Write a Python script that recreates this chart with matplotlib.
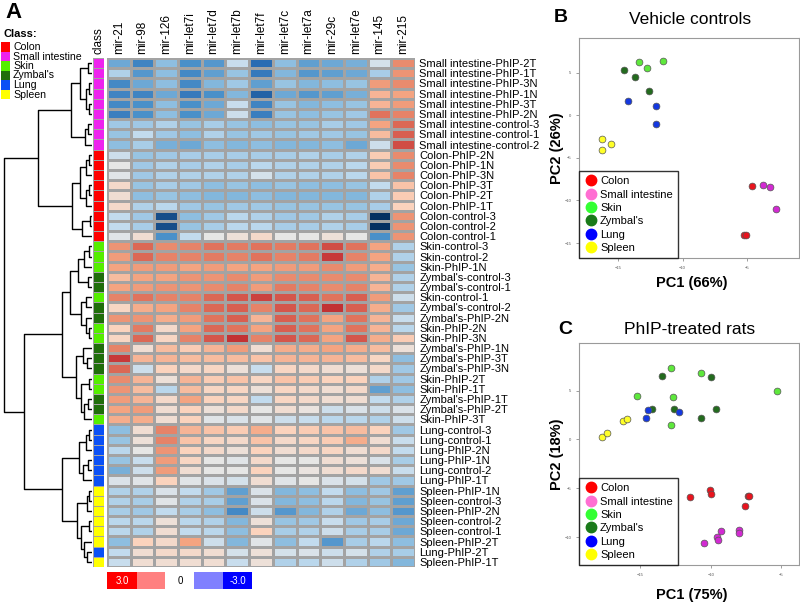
import matplotlib
matplotlib.use("Agg")
import matplotlib.pyplot as plt
import numpy as np
from matplotlib.colors import LinearSegmentedColormap, ListedColormap
from matplotlib.patches import Rectangle
from matplotlib.lines import Line2D

plt.rcParams["font.family"] = ["Liberation Sans", "DejaVu Sans"]

W, H = 800, 604

mirnas = ["mir-21", "mir-98", "mir-126", "mir-let7i", "mir-let7d", "mir-let7b", "mir-let7f",
          "mir-let7c", "mir-let7a", "mir-29c", "mir-let7e", "mir-145", "mir-215"]

samples = [
    "Small intestine-PhIP-2T", "Small intestine-PhIP-1T", "Small intestine-PhIP-3N",
    "Small intestine-PhIP-1N", "Small intestine-PhIP-3T", "Small intestine-PhIP-2N",
    "Small intestine-control-3", "Small intestine-control-1", "Small intestine-control-2",
    "Colon-PhIP-2N", "Colon-PhIP-1N", "Colon-PhIP-3N", "Colon-PhIP-3T", "Colon-PhIP-2T",
    "Colon-PhIP-1T", "Colon-control-3", "Colon-control-2", "Colon-control-1",
    "Skin-control-3", "Skin-control-2", "Skin-PhIP-1N", "Zymbal's-control-3",
    "Zymbal's-control-1", "Skin-control-1", "Zymbal's-control-2", "Zymbal's-PhIP-2N",
    "Skin-PhIP-2N", "Skin-PhIP-3N", "Zymbal's-PhIP-1N", "Zymbal's-PhIP-3T",
    "Zymbal's-PhIP-3N", "Skin-PhIP-2T", "Skin-PhIP-1T", "Zymbal's-PhIP-1T",
    "Zymbal's-PhIP-2T", "Skin-PhIP-3T", "Lung-control-3", "Lung-control-1",
    "Lung-PhIP-2N", "Lung-PhIP-1N", "Lung-control-2", "Lung-PhIP-1T",
    "Spleen-PhIP-1N", "Spleen-control-3", "Spleen-PhIP-2N", "Spleen-control-2",
    "Spleen-control-1", "Spleen-PhIP-2T", "Lung-PhIP-2T", "Spleen-PhIP-1T",
]

# scaled expression, rows = samples, cols = mirnas
values = [
    [-1.5, -2.0, -1.2, -1.8, -1.7, -0.5, -2.4, -1.2, -1.6, -1.5, -1.4, -0.3, 1.5],
    [-0.8, -1.7, -1.2, -1.9, -1.6, -1.1, -2.2, -1.3, -1.7, -1.6, -1.5, -0.9, 1.4],
    [-1.9, -1.5, -1.2, -1.9, -1.3, -1.0, -1.6, -1.1, -1.3, -1.2, -1.1, 1.3, 1.5],
    [-2.0, -2.0, -1.5, -2.2, -1.8, -1.3, -2.5, -1.5, -1.7, -1.6, -1.4, 1.0, 1.2],
    [-1.9, -1.8, -1.2, -1.8, -1.5, -0.5, -2.0, -1.1, -1.3, -1.2, -1.1, 1.0, 1.3],
    [-2.1, -1.8, -1.2, -1.8, -1.5, -0.4, -2.1, -1.1, -1.2, -1.1, -1.0, 1.8, 1.6],
    [-1.0, -1.0, -0.8, -1.1, -0.9, -1.1, -1.2, -1.1, -1.1, -0.9, -1.0, 1.2, 1.9],
    [-1.1, -0.6, -1.0, -1.2, -0.8, -1.1, -1.0, -1.1, -1.0, -1.0, -1.1, 0.9, 2.0],
    [-1.2, -0.9, -1.4, -1.5, -1.2, -1.3, -1.2, -1.3, -1.3, -1.2, -1.5, -0.4, 2.2],
    [-0.4, -1.1, -1.0, -0.9, -0.9, -0.9, -0.9, -0.9, -0.8, -0.9, -0.8, 0.7, 1.5],
    [0.0, -1.0, -0.8, -0.9, -0.8, -0.9, -0.7, -0.8, -0.8, -0.8, -0.7, 0.7, 1.5],
    [-0.1, -1.0, -0.8, -0.8, -0.8, -0.8, -0.3, -0.8, -0.8, -0.8, -0.7, 0.8, 1.6],
    [0.4, -1.1, -0.9, -1.0, -1.2, -1.1, -1.2, -1.1, -1.2, -1.2, -1.1, -0.6, 0.8],
    [0.3, -1.2, -1.1, -1.2, -1.3, -1.3, -1.2, -1.3, -1.3, -1.3, -1.3, -0.8, 0.7],
    [0.4, -0.8, -0.7, -1.0, -1.1, -1.0, -1.0, -1.1, -1.1, -1.1, -1.1, -0.9, 0.6],
    [-0.6, -1.0, -2.7, -1.2, -1.0, -0.7, -0.8, -1.0, -1.0, -0.8, -0.9, -3.0, 1.4],
    [-0.6, -0.9, -2.7, -1.1, -0.9, -0.7, -0.7, -0.9, -0.9, -0.8, -0.9, -3.0, 1.4],
    [-0.1, 0.3, -1.8, -0.6, 0.0, 0.2, 0.4, 0.0, 0.0, 0.2, 0.0, -1.8, 1.4],
    [1.4, 1.9, 1.5, 1.6, 1.8, 1.7, 1.8, 1.7, 1.8, 2.2, 1.8, 1.2, -0.8],
    [1.3, 1.9, 1.6, 1.6, 1.7, 1.6, 1.8, 1.6, 1.7, 2.4, 1.6, 1.2, -0.8],
    [1.2, 1.3, 1.3, 1.2, 1.3, 1.2, 1.2, 1.3, 1.3, 1.5, 1.3, 1.1, -1.1],
    [0.9, 1.2, 1.2, 1.4, 1.4, 1.5, 1.3, 1.5, 1.5, 1.5, 1.5, 1.0, -0.8],
    [1.2, 1.3, 1.4, 1.4, 1.5, 1.6, 1.3, 1.7, 1.6, 1.5, 1.6, 1.0, -0.8],
    [1.6, 1.8, 1.6, 1.6, 1.9, 2.1, 2.3, 2.1, 2.0, 1.8, 2.0, 1.3, -0.4],
    [0.5, 1.1, 1.2, 1.6, 1.9, 2.0, 1.6, 2.1, 1.9, 2.5, 2.0, 1.1, -1.0],
    [1.4, 1.4, 1.1, 1.3, 1.8, 2.0, 1.0, 2.0, 1.8, 1.2, 1.8, 1.0, -0.5],
    [0.6, 1.7, 0.4, 1.2, 1.9, 1.8, 1.2, 2.0, 1.8, 1.2, 1.8, 1.0, -0.7],
    [0.5, 1.9, 0.5, 1.6, 2.1, 2.5, 1.6, 2.1, 1.9, 1.2, 2.1, 1.1, 0.7],
    [1.6, 0.3, 0.9, 0.7, 1.0, 1.3, 0.3, 1.1, 1.1, 1.2, 1.1, 0.9, 0.2],
    [2.4, 1.0, 1.0, 0.9, 0.9, 0.9, 0.8, 1.0, 1.0, 1.0, 0.9, 0.5, -1.2],
    [1.9, -0.4, 0.6, 0.4, 0.5, 0.2, -0.5, 0.5, 0.4, 0.3, 0.2, 0.4, -1.0],
    [1.5, 1.0, 0.2, 1.0, 0.7, 0.8, 0.5, 0.8, 0.7, 0.6, 0.6, -0.8, -1.0],
    [1.4, 0.9, -0.7, 0.9, 0.5, 0.5, 0.2, 0.5, 0.4, 0.3, 0.4, -1.6, -1.2],
    [1.3, 1.0, 0.4, 1.2, 0.6, 0.5, -0.6, 0.5, 0.4, 0.3, 0.3, -0.6, -0.8],
    [1.2, 1.3, 0.3, 0.6, 0.2, 0.4, 0.0, 0.3, 0.1, -0.4, -0.2, -0.4, -0.2],
    [1.1, 1.1, 0.3, 0.6, -0.1, -0.2, -0.1, -0.4, -0.5, -0.7, -0.7, -0.8, -0.4],
    [-1.2, 0.3, 1.6, 1.0, 0.8, 0.7, 1.1, 0.6, 0.7, 0.8, 0.9, 0.6, -1.0],
    [-1.1, 0.2, 1.6, 0.8, 0.5, 0.4, 0.8, 0.4, 0.5, 0.7, 1.1, 0.3, -0.5],
    [-0.7, 0.0, 1.4, 0.6, 0.4, 0.2, 0.6, 0.3, 0.4, 0.5, 0.3, 0.4, -0.6],
    [-1.1, -0.5, 1.3, 0.5, 0.0, -0.1, 0.4, 0.0, 0.0, 0.3, 0.2, -0.2, -0.9],
    [-1.4, -0.4, 1.3, 0.3, 0.0, 0.0, 0.6, 0.0, 0.1, 0.3, 0.4, 0.3, -0.5],
    [-0.2, -0.1, 0.6, -0.1, -0.2, -0.3, 0.3, -0.1, 0.0, -0.2, -0.3, -1.0, -1.0],
    [-0.8, -0.8, -0.2, -0.6, -1.0, -1.6, -0.2, -1.3, -1.2, -0.6, -1.2, -1.0, -1.6],
    [-0.8, -0.9, -0.1, -0.8, -0.9, -1.6, -0.2, -1.3, -1.2, -0.7, -1.3, -1.1, -1.6],
    [-0.9, -1.0, -0.6, -0.9, -1.2, -1.9, -0.4, -1.7, -1.3, -0.8, -1.5, -1.2, -1.7],
    [-0.7, -0.7, 0.2, -0.7, -0.8, -1.3, 0.2, -1.1, -1.0, -0.5, -1.0, -0.9, -1.5],
    [-0.7, -0.8, 0.3, -0.6, -0.7, -1.2, 0.6, -0.9, -0.8, -0.4, -0.9, -0.9, -1.5],
    [-1.2, 0.6, 0.4, 1.2, -0.4, -1.3, -0.1, -1.2, -0.6, -1.7, -0.9, -0.7, -1.2],
    [-0.6, 0.3, 0.4, 0.4, 0.3, -0.3, 0.2, -0.3, -0.2, -0.4, -0.3, -0.8, -0.9],
    [-0.5, 0.3, 0.3, 0.3, 0.3, -0.5, 0.2, -0.8, -0.7, -0.4, -0.8, -1.0, -1.3],
]

class_names = ["Colon", "Small intestine", "Skin", "Zymbal's", "Lung", "Spleen"]
class_colors = ["#ff0000", "#ee22ee", "#55ee00", "#1f6e0a", "#0a50f5", "#ffff00"]

# dendrogram: [left, right, merge height in px from leaves]
tree = [
    [
        [[[0, 1, 4], [[2, 3, 3], [4, 5, 3], 6], 12], [[6, 7, 4], 8, 7], 21],
        [[[[9, 10, 3], 11, 6], [[12, 13, 3], 14, 6], 12], [[15, 16, 2], 17, 10], 20],
        54,
    ],
    [
        [
            [[[[18, 19, 3], 20, 8], [21, 22, 4], 14], [[23, 24, 6], [25, [26, 27, 3], 6], 11], 22],
            [[28, [29, 30, 5], 9], [[31, 32, 3], [[33, 34, 4], 35, 8], 11], 16],
            30,
        ],
        [
            [[[36, 37, 3], 38, 6], [[39, 40, 4], 41, 9], 13],
            [[[42, 43, 3], 44, 5], [[45, 46, 3], [47, [48, 49, 5], 8], 11], 15],
            30,
        ],
        68,
    ],
    88,
]

# PCA scores
pcb_x = {
    "Colon": [-4.67, -5.25, -5.10], "Small intestine": [-3.77, -3.26, -2.80],
    "Skin": [-13.33, -12.77, -11.54], "Zymbal's": [-14.56, -13.64, -12.62],
    "Lung": [-14.25, -12.05, -12.03], "Spleen": [-16.20, -15.49, -16.23],
}
pcb_y = {
    "Colon": [-8.28, -14.06, -14.10], "Small intestine": [-8.2, -8.4, -10.98],
    "Skin": [6.25, 5.55, 6.37], "Zymbal's": [5.28, 4.53, 2.89],
    "Lung": [1.72, 1.10, -1.05], "Spleen": [-2.74, -3.36, -4.10],
}
pcc_x = {
    "Colon": [-11.44, -10.07, -10.0, -7.36, -7.29, -7.57],
    "Small intestine": [-9.29, -9.55, -9.48, -7.97, -7.97, -10.45],
    "Skin": [-12.81, -10.68, -15.19, -12.69, -12.83, -5.33],
    "Zymbal's": [-13.42, -9.98, -14.17, -12.62, -9.60, -10.66],
    "Lung": [-14.41, -14.60, -12.26],
    "Spleen": [-16.2, -15.92, -17.69, -17.36],
}
pcc_y = {
    "Colon": [-5.86, -5.17, -5.55, -5.79, -5.82, -6.84],
    "Small intestine": [-9.38, -9.96, -10.30, -9.27, -9.61, -10.57],
    "Skin": [7.33, 6.78, 4.42, 4.32, 1.49, 4.94],
    "Zymbal's": [6.47, 6.43, 3.16, 3.09, 3.12, 2.23],
    "Lung": [3.05, 2.2, 2.82],
    "Spleen": [1.93, 2.1, 0.23, 0.70],
}
pca_point_colors = {"Colon": "#e8141e", "Small intestine": "#d22ad2", "Skin": "#5ee83c",
                    "Zymbal's": "#236b1e", "Lung": "#1438e0", "Spleen": "#ffff28"}
pca_legend_colors = {"Colon": "#ff0000", "Small intestine": "#ff6ed2", "Skin": "#33ff33",
                     "Zymbal's": "#1a7a1a", "Lung": "#0000ff", "Spleen": "#ffff00"}


def rect(x0, y0, x1, y1):
    return [x0 / W, 1 - y1 / H, (x1 - x0) / W, (y1 - y0) / H]


def sample_class(name):
    for c in class_names:
        if name.startswith(c):
            return class_names.index(c)
    return 3


fig = plt.figure(figsize=(8, 6.04), dpi=100)

cmap = LinearSegmentedColormap.from_list("hm", [
    (0.0, "#053061"), (0.1, "#2a6db5"), (0.2, "#4a90c9"), (0.3, "#8fbfe0"),
    (0.4, "#c2dbee"), (0.5, "#e6e6e6"), (0.6, "#fbd3bd"), (0.7, "#f4a582"),
    (0.8, "#e0735c"), (0.9, "#c83a3a"), (1.0, "#a50f15")])

top, bottom = 58, 567
ax = fig.add_axes(rect(107, top, 415, bottom))
data = np.array(values)
ax.pcolormesh(data, cmap=cmap, vmin=-3, vmax=3, edgecolors="#a3a3a3", linewidth=0.8)
ax.set_xlim(0, len(mirnas))
ax.set_ylim(len(samples), 0)
ax.xaxis.tick_top()
ax.yaxis.tick_right()
ax.set_xticks(np.arange(len(mirnas)) + 0.5)
ax.set_xticklabels(mirnas, rotation=90, fontsize=8.5)
ax.set_yticks(np.arange(len(samples)) + 0.5)
ax.set_yticklabels(samples, fontsize=8)
ax.tick_params(length=0, pad=3)
for s in ax.spines.values():
    s.set_visible(False)

# class column
axc = fig.add_axes(rect(93, top, 104, bottom))
cls = np.array([[sample_class(s)] for s in samples])
axc.pcolormesh(cls, cmap=ListedColormap(class_colors), vmin=-0.5, vmax=5.5,
               edgecolors="#a3a3a3", linewidth=0.6)
axc.set_ylim(len(samples), 0)
axc.set_xlim(0, 1)
axc.xaxis.tick_top()
axc.set_xticks([0.5])
axc.set_xticklabels(["class"], rotation=90, fontsize=8.5)
axc.set_yticks([])
axc.tick_params(length=0, pad=3)
for s in axc.spines.values():
    s.set_visible(False)

# dendrogram
axd = fig.add_axes(rect(0, top, 92, bottom))
axd.set_xlim(0, 92)
axd.set_ylim(len(samples), 0)
axd.axis("off")


def draw(node):
    if isinstance(node, int):
        return node + 0.5, 92
    ly, lx = draw(node[0])
    ry, rx = draw(node[1])
    x = 92 - node[2]
    axd.plot([lx, x, x, rx], [ly, ly, ry, ry], color="black", lw=1.0, solid_capstyle="butt")
    return (ly + ry) / 2, x


draw(tree)

fig.text(5 / W, 1 - 12 / H, "A", fontsize=16, fontweight="bold", va="center")
fig.text(4 / W, 1 - 34 / H, "Class:", fontsize=8, fontweight="bold", va="center")
for i, (n, c) in enumerate(zip(class_names, class_colors)):
    yc = 47 + i * 9.5
    fig.add_artist(Rectangle((0.5 / W, 1 - (yc + 4.5) / H), 9.5 / W, 9 / H,
                             facecolor=c, edgecolor="none", transform=fig.transFigure))
    fig.text(13 / W, 1 - yc / H, n, fontsize=7.6, va="center")

# color key
key_cols = ["#ff0000", "#ff8080", "#8080ff", "#0000ff"]
key_x = [107, 137, 194, 223]
key_w = [30, 28, 29, 29]
for c, x0, w in zip(key_cols, key_x, key_w):
    fig.add_artist(Rectangle((x0 / W, 1 - 589 / H), w / W, 17 / H, facecolor=c,
                             edgecolor="none", transform=fig.transFigure))
fig.text(122 / W, 1 - 580.5 / H, "3.0", color="white", fontsize=7, ha="center", va="center")
fig.text(180 / W, 1 - 580.5 / H, "0", color="black", fontsize=7, ha="center", va="center")
fig.text(238 / W, 1 - 580.5 / H, "-3.0", color="white", fontsize=7, ha="center", va="center")


def pca_panel(box, xs, ys, xlim, ylim, xticks, yticks, title, letter, letter_xy,
              title_y, xlabel, ylabel, xlabel_y):
    a = fig.add_axes(rect(*box))
    for n in class_names:
        a.scatter(xs[n], ys[n], s=24, c=pca_point_colors[n], edgecolors="#555555",
                  linewidths=0.5, zorder=3)
    a.set_xlim(*xlim)
    a.set_ylim(*ylim)
    a.set_xticks(xticks)
    a.set_yticks(yticks)
    a.tick_params(labelsize=3, labelcolor="#555555", length=2, width=0.5, color="#777777")
    for s in a.spines.values():
        s.set_color("#9a9a9a")
        s.set_linewidth(0.8)
    handles = [Line2D([0], [0], marker="o", color="w", markerfacecolor=pca_legend_colors[n],
                      markeredgecolor=pca_legend_colors[n], markersize=7.5, label=n)
               for n in class_names]
    leg = a.legend(handles=handles, loc="lower left", borderaxespad=0, fontsize=8,
                   frameon=True, fancybox=False, edgecolor="black", handletextpad=0.25,
                   handlelength=1.2, labelspacing=0.3, borderpad=0.45)
    leg.get_frame().set_linewidth(1.0)
    fig.text(letter_xy[0] / W, 1 - letter_xy[1] / H, letter, fontsize=14, fontweight="bold",
             va="center", ha="center")
    fig.text(690 / W, 1 - title_y / H, title, fontsize=12.5, va="center", ha="center")
    fig.text(692 / W, 1 - xlabel_y / H, xlabel, fontsize=10.5, fontweight="bold",
             va="center", ha="center")
    fig.text(557 / W, 1 - (box[1] + box[3]) / 2 / H, ylabel, fontsize=10.5,
             fontweight="bold", va="center", ha="center", rotation=90)
    return a


pca_panel((579, 38, 799, 258), pcb_x, pcb_y, (-18.0, -1.0), (-16.76, 9.07),
          [-15, -10, -5], [5, 0, -5, -10, -15], "Vehicle controls", "B", (561, 17), 20,
          "PC1 (66%)", "PC2 (26%)", 283)
pca_panel((579, 343, 799, 565), pcc_x, pcc_y, (-19.32, -3.75), (-12.87, 9.89),
          [-15, -10, -5], [5, 0, -5, -10], "PhIP-treated rats", "C", (565, 330), 330,
          "PC1 (75%)", "PC2 (18%)", 595)

fig.savefig("out.png", dpi=100)
